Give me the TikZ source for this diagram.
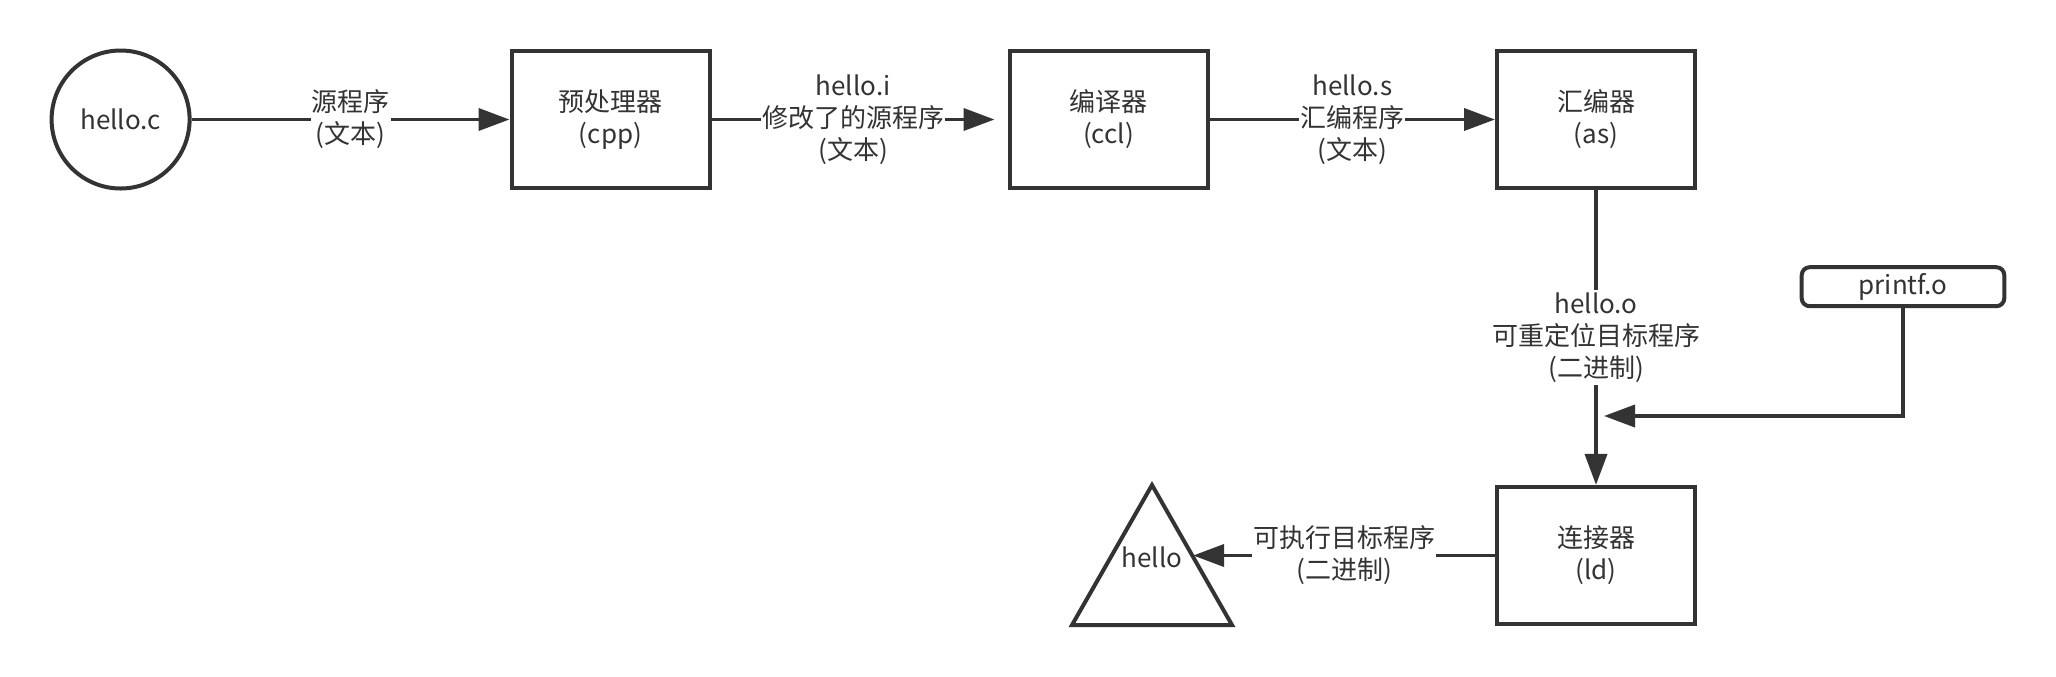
\documentclass[tikz,border=0pt]{standalone}
\usepackage{fontspec}
\setmainfont{Noto Sans CJK SC}
\usetikzlibrary{arrows.meta}
\definecolor{ink}{HTML}{333333}
\begin{document}
\begin{tikzpicture}[x=0.5pt,y=-0.5pt,
  every node/.style={font=\fontsize{13pt}{16pt}\selectfont, text=ink},
  line/.style={draw=ink, line width=1.9pt},
  arr/.style={line, -{Triangle[length=15.5pt,width=11pt]}},
  boxnode/.style={draw=ink, line width=2pt, minimum width=99pt, minimum height=68.6pt, align=center, inner sep=0pt},
  circnode/.style={draw=ink, line width=2pt, circle, minimum size=69pt, inner sep=0pt},
  pfnode/.style={draw=ink, line width=2pt, rounded corners=4pt, minimum width=101.3pt, minimum height=19.5pt, inner sep=0pt},
  lbl/.style={fill=white, inner xsep=0.5pt, inner ysep=1.5pt, align=center}]
\useasboundingbox (0,0) rectangle (2056,676);
% nodes
\node[circnode] (c) at (120.6,119.5) {hello.c};
\node[boxnode] (cpp) at (610.5,119.5) {预处理器\\(cpp)};
\node[boxnode] (ccl) at (1108.5,119.5) {编译器\\(ccl)};
\node[boxnode] (as) at (1596,119.5) {汇编器\\(as)};
\node[boxnode] (ld) at (1596,555.5) {连接器\\(ld)};
\node[pfnode] (pf) at (1903,286.7) {printf.o};
% triangle
\coordinate (apex) at (1152,485);
\coordinate (bl) at (1072,625);
\coordinate (br) at (1232,625);
\draw[ink, line width=2pt, line join=miter] (apex) -- (br) -- (bl) -- cycle;
\node (hello) at (1152,557) {hello};
% connector end points
\coordinate (ccin) at ([xshift=-6.5pt]ccl.west);
\coordinate (join) at (1604,416);
\coordinate (tip) at (1193.1,555.5);
% connectors
\draw[arr] (c) -- node[lbl] {源程序\\(文本)} (cpp);
\draw[arr] (cpp) -- node[lbl] {hello.i\\修改了的源程序\\(文本)} (ccin);
\draw[arr] (ccl) -- node[lbl] {hello.s\\汇编程序\\(文本)} (as);
\draw[arr] (as) -- node[lbl] {hello.o\\可重定位目标程序\\(二进制)} (ld);
\draw[arr] (pf.south) |- (join);
\draw[arr] (ld) -- node[lbl] {可执行目标程序\\(二进制)} (tip);
\end{tikzpicture}
\end{document}
